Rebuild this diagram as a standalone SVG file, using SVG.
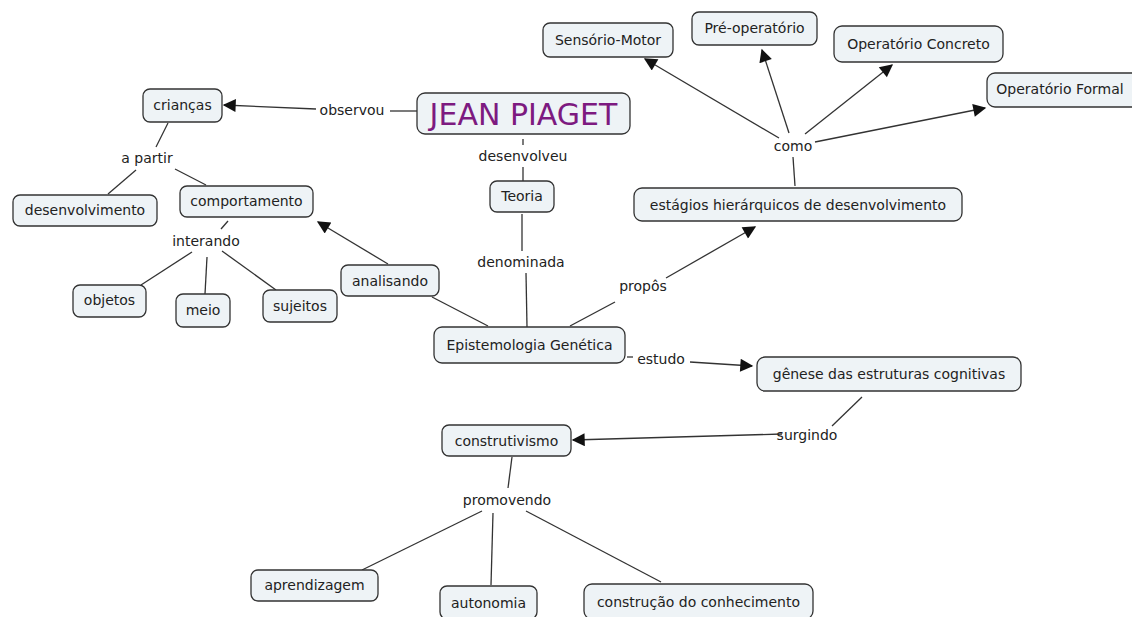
<svg xmlns="http://www.w3.org/2000/svg" width="1132" height="617" viewBox="0 0 1132 617">
<style>
.n rect{fill:#eef3f6;stroke:#333;stroke-width:1.3}
text{font-family:"DejaVu Sans",Verdana,sans-serif;font-size:14px;fill:#222;text-anchor:middle;dominant-baseline:central}
.t{font-size:30px;fill:#7d1a80}
.c line,.c polyline{stroke:#333;stroke-width:1.3;fill:none}
.a{marker-end:url(#ah)}
</style>
<defs>
<marker id="ah" viewBox="0 0 10 10" refX="9" refY="5" markerWidth="15" markerHeight="13" markerUnits="userSpaceOnUse" orient="auto"><path d="M0,0 L10,5 L0,10 z" fill="#111"/></marker>
</defs>
<rect width="1132" height="617" fill="#fff"/>
<g class="c">
<line x1="417" y1="111" x2="390" y2="111"/>
<line class="a" x1="316" y1="109" x2="224" y2="105"/>
<line x1="168" y1="123" x2="156" y2="147"/>
<line x1="136" y1="170" x2="108" y2="194"/>
<line x1="175" y1="169" x2="206" y2="185"/>
<line x1="228" y1="221" x2="221" y2="229"/>
<line x1="192" y1="252" x2="141" y2="285"/>
<line x1="207" y1="257" x2="205" y2="294"/>
<line x1="222" y1="251" x2="276" y2="290"/>
<line class="a" x1="388" y1="264" x2="318" y2="222"/>
<line x1="488" y1="326" x2="432" y2="297"/>
<line x1="523" y1="139" x2="523" y2="145"/>
<line x1="523" y1="167" x2="523" y2="181"/>
<line x1="522" y1="214" x2="522" y2="251"/>
<line x1="526" y1="273" x2="527" y2="327"/>
<line x1="570" y1="326" x2="615" y2="302"/>
<line class="a" x1="666" y1="278" x2="755" y2="227"/>
<line x1="795" y1="186" x2="793" y2="157"/>
<line class="a" x1="779" y1="138" x2="645" y2="59"/>
<line class="a" x1="789" y1="133" x2="762" y2="50"/>
<line class="a" x1="805" y1="134" x2="892" y2="65"/>
<line class="a" x1="815" y1="142" x2="985" y2="108"/>
<line x1="627" y1="357" x2="633" y2="357"/>
<line class="a" x1="690" y1="362" x2="752" y2="366"/>
<line x1="862" y1="397" x2="832" y2="426"/>
<line class="a" x1="782" y1="434" x2="573" y2="440"/>
<line x1="512" y1="457" x2="508" y2="488"/>
<line x1="482" y1="511" x2="362" y2="570"/>
<line x1="493" y1="513" x2="491" y2="585"/>
<line x1="526" y1="511" x2="661" y2="582"/>
</g>
<g id="jean" class="n"><rect x="417" y="93" width="213" height="41" rx="8"/><text class="t" x="523.5" y="114">JEAN PIAGET</text></g>
<g id="lbl-observou"><text x="352" y="110">observou</text></g>
<g id="criancas" class="n"><rect x="143" y="89" width="79" height="33" rx="7"/><text x="182.5" y="105">crianças</text></g>
<g id="lbl-apartir"><text x="147" y="158">a partir</text></g>
<g id="desenvolvimento" class="n"><rect x="13" y="195" width="144" height="31" rx="7"/><text x="85" y="210">desenvolvimento</text></g>
<g id="comportamento" class="n"><rect x="180" y="186" width="133" height="31" rx="7"/><text x="246.5" y="201">comportamento</text></g>
<g id="lbl-interando"><text x="206" y="241">interando</text></g>
<g id="objetos" class="n"><rect x="73" y="285" width="73" height="32" rx="7"/><text x="109.5" y="300">objetos</text></g>
<g id="meio" class="n"><rect x="176" y="294" width="54" height="33" rx="7"/><text x="203" y="310">meio</text></g>
<g id="sujeitos" class="n"><rect x="263" y="290" width="74" height="32" rx="7"/><text x="300" y="306">sujeitos</text></g>
<g id="analisando" class="n"><rect x="341" y="265" width="98" height="31" rx="7"/><text x="390" y="281">analisando</text></g>
<g id="lbl-desenvolveu"><text x="523" y="156">desenvolveu</text></g>
<g id="teoria" class="n"><rect x="490" y="181" width="64" height="31" rx="7"/><text x="522" y="196">Teoria</text></g>
<g id="lbl-denominada"><text x="521" y="262">denominada</text></g>
<g id="epistemologia" class="n"><rect x="434" y="327" width="191" height="36" rx="8"/><text x="529.5" y="345">Epistemologia Genética</text></g>
<g id="lbl-propos"><text x="643" y="286">propôs</text></g>
<g id="estagios" class="n"><rect x="634" y="188" width="328" height="33" rx="8"/><text x="798" y="205">estágios hierárquicos de desenvolvimento</text></g>
<g id="lbl-como"><text x="793" y="146">como</text></g>
<g id="sensorio" class="n"><rect x="543" y="23" width="130" height="34" rx="7"/><text x="608" y="40">Sensório-Motor</text></g>
<g id="preop" class="n"><rect x="692" y="12" width="125" height="33" rx="7"/><text x="754.5" y="28">Pré-operatório</text></g>
<g id="concreto" class="n"><rect x="834" y="26" width="169" height="36" rx="8"/><text x="918.5" y="44">Operatório Concreto</text></g>
<g id="formal" class="n"><rect x="987" y="73" width="160" height="34" rx="8"/><text x="1060" y="89">Operatório Formal</text></g>
<g id="lbl-estudo"><text x="661" y="359">estudo</text></g>
<g id="genese" class="n"><rect x="757" y="357" width="264" height="34" rx="8"/><text x="889" y="374">gênese das estruturas cognitivas</text></g>
<g id="lbl-surgindo"><text x="807" y="435">surgindo</text></g>
<g id="construtivismo" class="n"><rect x="442" y="425" width="129" height="31" rx="7"/><text x="506.5" y="441">construtivismo</text></g>
<g id="lbl-promovendo"><text x="507" y="500">promovendo</text></g>
<g id="aprendizagem" class="n"><rect x="251" y="570" width="127" height="31" rx="7"/><text x="314.5" y="585">aprendizagem</text></g>
<g id="autonomia" class="n"><rect x="440" y="586" width="97" height="33" rx="7"/><text x="488.5" y="603">autonomia</text></g>
<g id="construcao" class="n"><rect x="584" y="584" width="229" height="35" rx="8"/><text x="698.5" y="602">construção do conhecimento</text></g>
</svg>
